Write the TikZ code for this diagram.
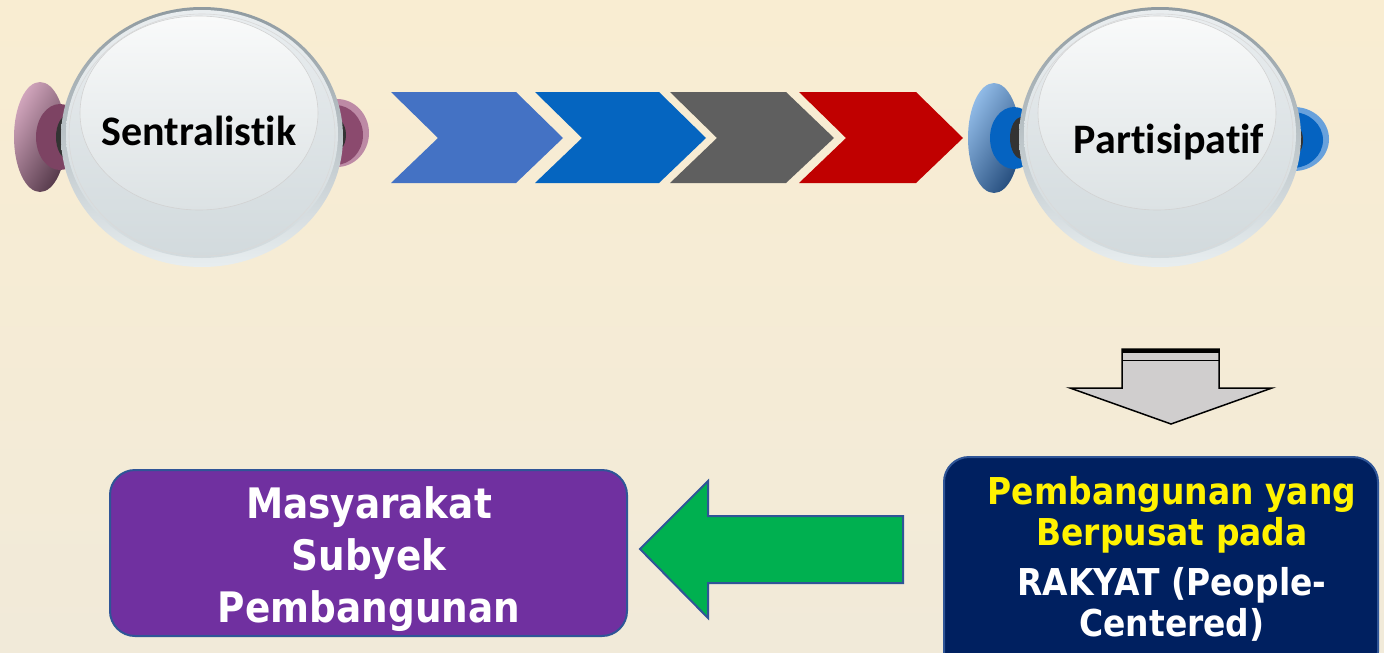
\documentclass[tikz,border=0pt]{standalone}
\usepackage{fontspec}
\newfontfamily\calib{Carlito}[Ligatures={NoCommon}]
\newfontfamily\tah{DejaVu Sans}[FakeStretch=0.89]
\definecolor{bgtop}{HTML}{F9EDD2}
\definecolor{bgbot}{HTML}{F1EAD9}
\definecolor{chevA}{HTML}{4472C4}
\definecolor{chevB}{HTML}{0565C0}
\definecolor{chevC}{HTML}{5F5F5F}
\definecolor{chevD}{HTML}{C00000}
\definecolor{edgeblue}{HTML}{2F5597}
\definecolor{purplebox}{HTML}{7030A0}
\definecolor{navybox}{HTML}{002060}
\definecolor{arrowgreen}{HTML}{00B050}
\definecolor{arrowgray}{HTML}{D0CECE}
\definecolor{ringtop}{HTML}{8F9AA0}
\definecolor{ringbot}{HTML}{E8EEF0}
\definecolor{disctop}{HTML}{E9EDEF}
\definecolor{discbot}{HTML}{D2DADD}
\definecolor{hitop}{HTML}{F9FAFA}
\definecolor{hibot}{HTML}{DCE2E4}
\definecolor{plight}{HTML}{D2A6BD}
\definecolor{pmid}{HTML}{8B4A6E}
\definecolor{pdark}{HTML}{55394A}
\definecolor{blight}{HTML}{92BCE8}
\definecolor{bmid}{HTML}{0563C1}
\definecolor{bdark}{HTML}{264E7E}
\tikzset{
  knobtext/.style={font=\calib\bfseries\fontsize{42}{50}\selectfont, anchor=base, inner sep=0pt},
  boxshape/.style={rectangle, rounded corners=25pt, draw=edgeblue, line width=2pt, inner sep=0pt},
  boxtext/.style={font=\tah\bfseries, align=center, inner sep=0pt, text=white},
  bigarrow/.style={line width=2pt, line join=miter}
}
\newcommand{\knobbody}{%
  \shade[top color=ringtop, bottom color=ringbot] (0,0) ellipse [x radius=141, y radius=130];
  \shade[top color=disctop, bottom color=discbot] (0,-3) ellipse [x radius=136, y radius=124];
  \draw[white!70!gray, line width=0.6pt] (0,-2) ellipse [x radius=133, y radius=121];
  \shade[top color=hitop, bottom color=hibot] (-3,-24) ellipse [x radius=119, y radius=97];
  \draw[gray!35, line width=0.6pt] (-3,-24) ellipse [x radius=119, y radius=97];
}
\begin{document}
\begin{tikzpicture}[x=1pt, y=-1pt]
\useasboundingbox (0,0) rectangle (1384,653);
\clip (0,0) rectangle (1384,653);
\shade[top color=bgtop, bottom color=bgbot] (0,0) rectangle (1384,653);

% ---------- Sentralistik knob ----------
\begin{scope}[shift={(202,137)}]
  \fill[plight!70!pmid] (135,-4) ellipse [x radius=32, y radius=34];
  \fill[pmid] (133,-2) ellipse [x radius=28, y radius=30];
  \fill[black!80] (128,-2) ellipse [x radius=16, y radius=20];
  \shade[left color=plight, middle color=pmid, right color=pdark, shading angle=60] (-162,0) ellipse [x radius=26, y radius=55];
  \fill[pmid!90!black] (-142,0) ellipse [x radius=24, y radius=33];
  \fill[black!80] (-134,0) ellipse [x radius=12, y radius=22];
  \knobbody
\end{scope}
\node[knobtext] (sentral) at (199,145) {Sentralistik};

% ---------- Partisipatif knob ----------
\begin{scope}[shift={(1160,137)}]
  \fill[blight!70!bmid] (134,2) ellipse [x radius=35, y radius=32];
  \fill[bmid] (132,3) ellipse [x radius=31, y radius=28];
  \fill[black!80] (127,3) ellipse [x radius=16, y radius=20];
  \shade[left color=blight, middle color=bmid, right color=bdark, shading angle=60] (-166,1) ellipse [x radius=26, y radius=55];
  \fill[bmid] (-146,1) ellipse [x radius=24, y radius=31];
  \fill[black!80] (-138,1) ellipse [x radius=12, y radius=21];
  \knobbody
\end{scope}
\node[knobtext] (partis) at (1169,153) {Partisipatif};

% ---------- chevrons ----------
\fill[chevA] (391,92) -- (516,92) -- (563,138) -- (516,183) -- (391,183) -- (438,138) -- cycle;
\fill[chevB] (535,92) -- (659,92) -- (706,138) -- (659,183) -- (535,183) -- (582,138) -- cycle;
\fill[chevC] (670,92) -- (786,92) -- (834,138) -- (786,183) -- (670,183) -- (717,138) -- cycle;
\fill[chevD] (799,92) -- (916,92) -- (963,138) -- (916,183) -- (799,183) -- (846,138) -- cycle;

% ---------- down arrow ----------
\filldraw[fill=arrowgray, draw=black, line width=1.5pt, line join=miter]
  (1122,349) -- (1219,349) -- (1219,388) -- (1272,388) -- (1171,424) -- (1070,388) -- (1122,388) -- cycle;
\draw[black, line width=3.5pt] (1122,351) -- (1219,351);
\draw[black, line width=1.8pt] (1122,360.5) -- (1219,360.5);

% ---------- green arrow ----------
\filldraw[bigarrow, fill=arrowgreen, draw=edgeblue]
  (640,549) -- (708,481) -- (708,516) -- (903,516) -- (903,583) -- (708,583) -- (708,618) -- cycle;

% ---------- boxes ----------
\node[boxshape, fill=purplebox, minimum width=517pt, minimum height=166pt] (mbox) at (368.5,553) {};
\node[boxtext, font=\tah\bfseries\fontsize{42}{52}\selectfont] (mtext) at (369,559)
  {Masyarakat\\Subyek\\Pembangunan};

\node[boxshape, fill=navybox, minimum width=434pt, minimum height=220pt] (pbox) at (1161,567) {};
\node[boxtext, font=\tah\bfseries\fontsize{37}{41}\selectfont] (ptext) at (1172,559)
  {\textcolor{yellow}{Pembangunan yang}\\\textcolor{yellow}{Berpusat pada}\\[9pt]RAKYAT (People-\\Centered)};
\end{tikzpicture}
\end{document}
